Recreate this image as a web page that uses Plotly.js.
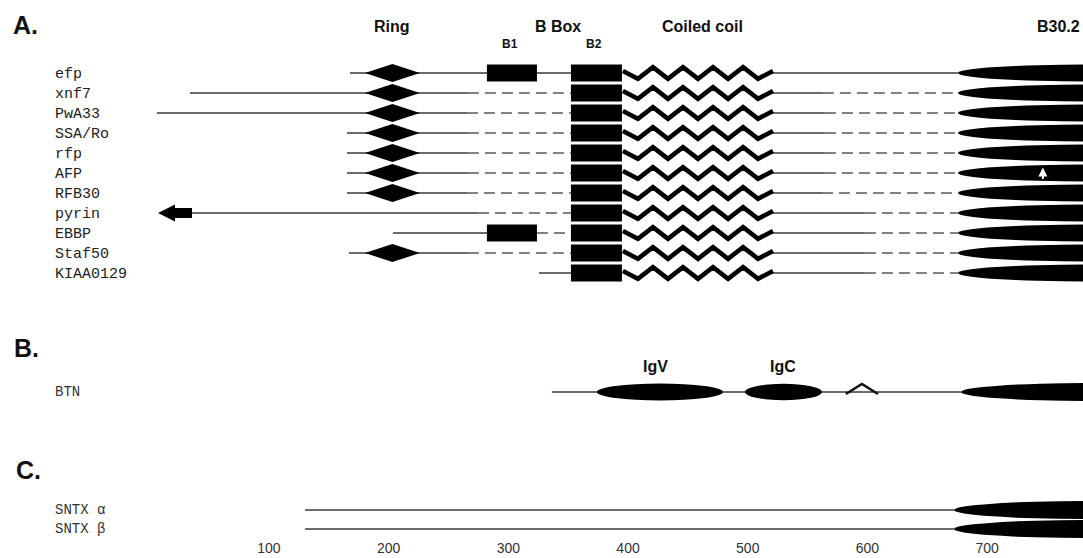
<!DOCTYPE html>
<html><head><meta charset="utf-8">
<script src="https://cdn.plot.ly/plotly-3.0.1.min.js"></script>
<style>html,body{margin:0;padding:0;background:#fff}#chart{width:1083px;height:558px}</style>
</head><body><div id="chart"></div>
<script>
// ---------------- data (residue positions on the common alignment axis) ----------------
const proteins     = ['efp','xnf7','PwA33','SSA/Ro','rfp','AFP','RFB30','pyrin','EBBP','Staf50','KIAA0129'];
const seqStart     = [167.7, 34.0, 6.4, 165.2, 165.2, 165.2, 165.2, 35.7, 203.6, 166.8, 325.6];
const hasRing      = [1,1,1,1,1,1,1,0,0,1,0];
const hasB1        = [1,0,0,0,0,0,0,0,1,0,0];
const gapBeforeB2  = [null, 266.2, 265.4, 266.2, 266.2, 266.2, 265.4, 274.6, 323.9, 266.2, null];
const gapAfterCoil = [null, 562.8, 564.5, 564.5, 564.5, 564.5, 562.0, 597.9, 597.9, 597.9, 597.9];
const b302Start    = [675.6, 675.6, 675.6, 675.6, 675.6, 675.6, 675.6, 675.6, 675.6, 675.6, 675.6];
const ringDomain   = [180.2, 226.1];
const b1Domain     = [282.1, 323.9];
const b2Domain     = [352.3, 394.9];
const coilDomain   = [395.7, 521.1];
const coilRepeat   = 25.1;
const b302End      = 892.8;
const pyrinNterm   = [7.3, 21.5, 35.7];   // tip, head base, tail
const afpMark      = 746.6;

const btnName  = 'BTN';
const btnStart = 336.4;
const btnIgV   = [374.0, 479.3];
const btnIgC   = [497.7, 562.0];
const btnTM    = [582.0, 595.4, 608.8];
const btnB302  = [678.1, 892.8];

const sntxNames = ['SNTX α', 'SNTX β'];
const sntxStart = [130.1, 130.1];
const sntxB302  = [672.3, 672.3];

const tickVals = [100, 200, 300, 400, 500, 600, 700];
const tickText = ['100', '200', '300', '400', '500', '600', '700'];

// ---------------- layout constants ----------------
const W = 1083, PH = 538;
const rowA = proteins.map((_, i) => i);
const rowBTN = 15.95;
const rowSNTX = [21.85, 22.8];
const boxH = 0.425, ringH = 0.45, coilA = 0.29;
const lineCol = '#3a3a3a', dashCol = '#5a5a5a';

const shapes = [], traces = [], ann = [];
const solid = {x: [], y: []}, dashed = {x: [], y: []}, coil = {x: [], y: []};
function seg(t, a, b, r) { t.x.push(a, b, null); t.y.push(r, r, null); }
function rect(x0, x1, r, h) { shapes.push({type: 'rect', xref: 'x', yref: 'y', x0, x1, y0: r - h, y1: r + h, fillcolor: '#000', line: {width: 0}}); }
function ell(x0, x1, r, h) { shapes.push({type: 'circle', xref: 'x', yref: 'y', x0, x1, y0: r - h, y1: r + h, fillcolor: '#000', line: {width: 0}}); }
function diamond(x0, x1, r, h) {
  const c = (x0 + x1) / 2;
  shapes.push({type: 'path', xref: 'x', yref: 'y', path: `M${x0},${r} L${c},${r - h} L${x1},${r} L${c},${r + h} Z`, fillcolor: '#000', line: {width: 0}});
}

proteins.forEach((p, i) => {
  const r = rowA[i];
  if (gapBeforeB2[i] === null) seg(solid, seqStart[i], b2Domain[0], r);
  else { seg(solid, seqStart[i], gapBeforeB2[i], r); seg(dashed, gapBeforeB2[i], b2Domain[0], r); }
  if (gapAfterCoil[i] === null) seg(solid, coilDomain[1], b302Start[i], r);
  else { seg(solid, coilDomain[1], gapAfterCoil[i], r); seg(dashed, gapAfterCoil[i], b302Start[i], r); }
  if (hasRing[i]) diamond(ringDomain[0], ringDomain[1], r, ringH);
  if (hasB1[i]) rect(b1Domain[0], b1Domain[1], r, boxH);
  rect(b2Domain[0], b2Domain[1], r, boxH);
  // coiled-coil zigzag
  const half = coilRepeat / 2;
  coil.x.push(coilDomain[0]); coil.y.push(r - 0.1);
  for (let k = 1; coilDomain[0] + half * k < coilDomain[1] - 1; k++) {
    coil.x.push(coilDomain[0] + half * k); coil.y.push(k % 2 ? r + coilA : r - coilA);
  }
  coil.x.push(coilDomain[1]); coil.y.push(r - 0.1);
  coil.x.push(null); coil.y.push(null);
  ell(b302Start[i], b302End, r, boxH);
  ann.push({xref: 'paper', yref: 'y', x: 53 / W, y: r + 0.08, xanchor: 'left', yanchor: 'middle', showarrow: false, text: p,
    font: {family: 'Liberation Mono, Courier New, monospace', size: 15, color: '#222'}});
});

// pyrin N-terminal arrow
{
  const r = rowA[7], hh = 0.425, bh = 0.25;
  const [tip, base, tail] = pyrinNterm;
  shapes.push({type: 'path', xref: 'x', yref: 'y', fillcolor: '#000', line: {width: 0},
    path: `M${tip},${r} L${base},${r - hh} L${base},${r - bh} L${tail},${r - bh} L${tail},${r + bh} L${base},${r + bh} L${base},${r + hh} Z`});
}
// AFP white mark
ann.push({xref: 'x', yref: 'y', x: afpMark, y: rowA[5] - 0.28, ax: 0, ay: 13, showarrow: true, arrowhead: 2, arrowsize: 0.9,
  arrowwidth: 2, arrowcolor: '#fff', text: ''});

// BTN
seg(solid, btnStart, btnB302[0], rowBTN);
ell(btnIgV[0], btnIgV[1], rowBTN, 0.425);
ell(btnIgC[0], btnIgC[1], rowBTN, 0.41);
ell(btnB302[0], btnB302[1], rowBTN, 0.45);
traces.push({type: 'scatter', mode: 'lines', x: btnTM, y: [rowBTN + 0.1, rowBTN - 0.4, rowBTN + 0.1],
  line: {color: '#111', width: 2.6}, hoverinfo: 'skip'});
ann.push({xref: 'paper', yref: 'y', x: 53 / W, y: rowBTN, xanchor: 'left', yanchor: 'middle', showarrow: false, text: btnName,
  font: {family: 'Liberation Mono, Courier New, monospace', size: 14, color: '#333'}});

// SNTX
sntxNames.forEach((n, i) => {
  seg(solid, sntxStart[i], sntxB302[i], rowSNTX[i]);
  ell(sntxB302[i], b302End, rowSNTX[i], 0.45);
  ann.push({xref: 'paper', yref: 'y', x: 53 / W, y: rowSNTX[i], xanchor: 'left', yanchor: 'middle', showarrow: false, text: n,
    font: {family: 'Liberation Mono, Courier New, monospace', size: 14, color: '#333'}});
});

traces.unshift(
  {type: 'scatter', mode: 'lines', x: solid.x, y: solid.y, line: {color: lineCol, width: 1.3}, hoverinfo: 'skip'},
  {type: 'scatter', mode: 'lines', x: dashed.x, y: dashed.y, line: {color: dashCol, width: 1.7, dash: '11px,6px'}, hoverinfo: 'skip'},
  {type: 'scatter', mode: 'lines', x: coil.x, y: coil.y, line: {color: '#000', width: 4.6}, hoverinfo: 'skip'}
);

// headers
const hdr = (t, px, py, size, anchor) => ann.push({xref: 'paper', yref: 'paper', x: px / W, y: 1 - py / PH,
  xanchor: anchor || 'center', yanchor: 'middle', showarrow: false, text: '<b>' + t + '</b>',
  font: {family: 'Liberation Sans, Arial, sans-serif', size, color: '#111'}});
hdr('A.', 11, 25, 25, 'left');
hdr('B.', 12, 348, 25, 'left');
hdr('C.', 14, 470, 25, 'left');
hdr('Ring', 392, 26, 16);
hdr('B Box', 558, 26, 16);
hdr('Coiled coil', 702, 26, 16);
hdr('B30.2', 1058, 26, 16);
hdr('B1', 510, 44, 12);
hdr('B2', 594, 44, 12);
hdr('IgV', 655, 366, 16);
hdr('IgC', 783, 366, 16);

const layout = {
  width: 1083, height: 558, margin: {l: 0, r: 0, t: 0, b: 20},
  paper_bgcolor: '#fff', plot_bgcolor: '#fff', showlegend: false,
  xaxis: {range: [-124.7, 780.1], showgrid: false, zeroline: false, showline: false, ticks: '',
    tickmode: 'array', tickvals: tickVals, ticktext: tickText,
    tickfont: {family: 'Liberation Sans, Arial, sans-serif', size: 14, color: '#333'}},
  yaxis: {range: [23.25, -3.65], visible: false, showgrid: false, zeroline: false},
  shapes, annotations: ann
};
Plotly.newPlot('chart', traces, layout, {staticPlot: true, displayModeBar: false});
</script></body></html>
